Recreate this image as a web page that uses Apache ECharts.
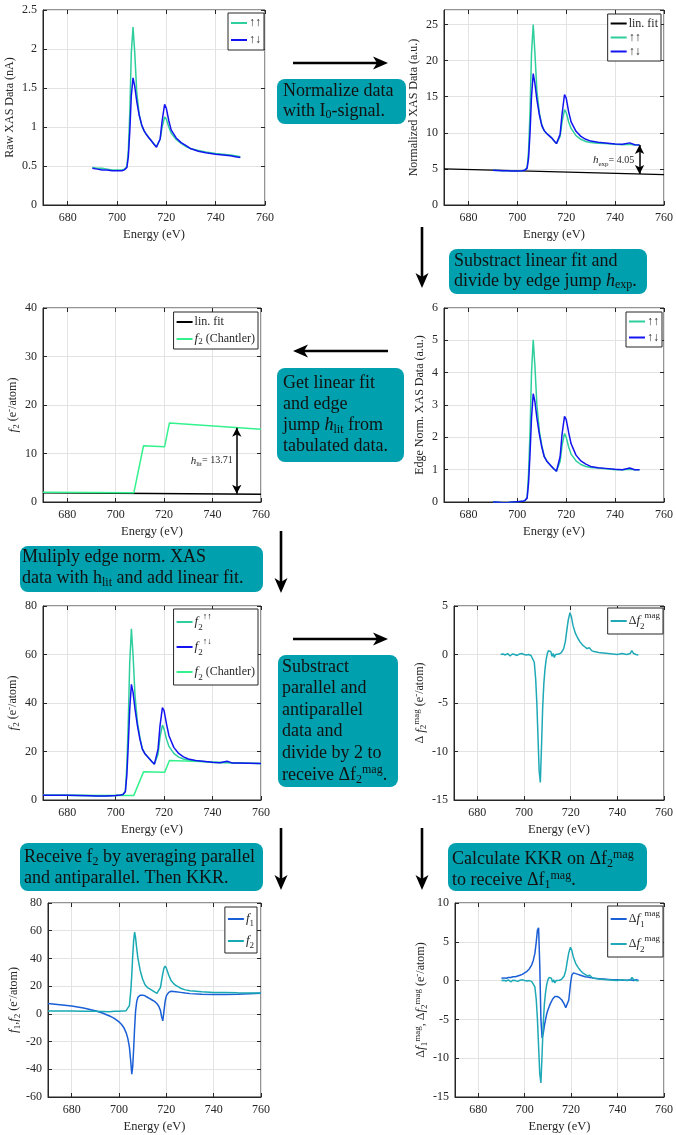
<!DOCTYPE html>
<html><head><meta charset="utf-8">
<script src="https://cdn.jsdelivr.net/npm/echarts@6/dist/echarts.min.js"></script>
<style>html,body{margin:0;padding:0;background:#fff}#c{width:676px;height:1135px}</style>
</head><body><div id="c"></div>
<script>
// ---------------- DATA ----------------
const E = [690,692,694,696,698,700,702,703,704,704.6,705.2,705.8,706.5,707.2,708,709,710,711,712,713,714,715,716,716.8,717.5,718.3,719.3,720,721,722,724,726,728,730,733,736,740,743,746,748,750];
const raw_ud = [0.47,0.46,0.45,0.45,0.44,0.44,0.44,0.45,0.48,0.62,0.95,1.40,1.63,1.52,1.33,1.15,1.03,0.95,0.90,0.86,0.82,0.78,0.74,0.74,0.85,1.08,1.29,1.24,1.08,0.96,0.86,0.80,0.76,0.72,0.69,0.67,0.65,0.64,0.63,0.62,0.61];
const raw_uu = [0.48,0.47,0.47,0.46,0.45,0.45,0.45,0.46,0.49,0.70,1.20,1.95,2.28,1.95,1.45,1.16,1.02,0.95,0.90,0.86,0.82,0.78,0.75,0.75,0.84,1.00,1.13,1.10,1.00,0.92,0.84,0.79,0.75,0.72,0.70,0.68,0.66,0.65,0.64,0.63,0.62];
const norm_ud = [4.8,4.78,4.75,4.75,4.72,4.72,4.75,4.8,5.1,6.5,10,15,18.2,16.8,14.6,12.5,11.0,10.3,9.9,9.6,9.3,8.9,8.5,8.6,9.8,12.6,15.3,14.8,12.9,11.5,10.2,9.5,9.1,8.85,8.7,8.6,8.45,8.4,8.6,8.35,8.3];
const norm_uu = [4.8,4.78,4.75,4.75,4.72,4.72,4.75,4.8,5.15,7.5,13,21,25.0,21,15.8,12.8,11.1,10.3,9.9,9.6,9.3,8.9,8.5,8.6,9.5,11.5,13.2,12.8,11.5,10.6,9.6,9.1,8.8,8.65,8.55,8.5,8.4,8.35,8.4,8.3,8.3];
const edge_ud = [0.0,-0.01,-0.02,-0.02,0.0,0.01,0.02,0.04,0.12,0.6,1.5,2.6,3.35,3.1,2.6,2.1,1.7,1.4,1.27,1.18,1.1,1.02,0.95,1.0,1.4,2.1,2.65,2.55,2.15,1.8,1.45,1.27,1.17,1.1,1.06,1.04,1.01,1.0,1.05,1.0,1.0];
const edge_uu = [0.0,-0.01,-0.02,-0.02,0.0,0.01,0.02,0.04,0.13,0.9,2.2,4.0,5.02,4.2,3.0,2.2,1.75,1.42,1.27,1.18,1.1,1.02,0.95,0.98,1.25,1.75,2.12,2.0,1.7,1.48,1.27,1.16,1.1,1.07,1.05,1.03,1.0,1.0,1.01,1.0,1.0];

const E5 = [670,675,680,685,690,692,694,696,698,700,702,703,704,704.6,705.2,705.8,706.5,707.2,708,709,710,711,712,713,714,715,716,716.8,717.5,718.3,719.3,720,721,722,724,726,728,730,733,736,740,743,746,748,750,755,760];
const f2_ud = [2.0,2.0,1.95,1.9,1.8,1.7,1.6,1.6,1.8,1.9,2.1,2.3,3.4,10,22.4,37.4,47.7,44.3,37.5,30.6,25.1,21.0,19.2,18.0,16.9,15.8,14.8,15.5,21.0,30.6,38.1,36.8,31.3,26.5,21.7,19.2,17.8,16.9,16.3,16.0,15.6,15.4,16.0,15.3,15.3,15.2,15.1];
const f2_uu = [2.0,2.0,1.95,1.9,1.8,1.7,1.6,1.6,1.8,1.9,2.1,2.3,3.6,14.1,32,56.6,70.6,59.4,42.9,32,25.8,21.3,19.2,18.0,16.9,15.8,14.8,15.2,18.9,25.8,30.9,29.2,25.1,22.1,19.2,17.7,16.9,16.5,16.2,15.9,15.5,15.4,15.5,15.3,15.3,15.2,15.1];

const E_ch = [670,707.5,711.5,720.2,722.2,760];
const f2_ch = [2.0,1.9,11.6,11.4,16.3,15.0];
const E_fit = [670,760];
const fit_exp = [5.0,4.2];
const fit_lit = [1.9,1.6];

const E_mag = [690,691,692,693,694,695,696,697,698,699,700,701,702,703,703.7,704.4,705,705.5,706,706.5,707,707.5,708,708.5,709,709.5,710,710.5,711,711.5,712,712.5,713,713.5,714,715,716,717,717.7,718.4,719,719.7,720.3,721,722,723,724,725,726,727,728,729,730,732,734,736,738,740,742,744,745.5,746.2,747,748,749];
const df2 = [0,0.05,-0.05,0.1,-0.15,0.05,0.0,-0.1,0.05,0.1,0.0,-0.05,0.0,-0.1,-0.3,-0.8,-2.5,-5.0,-8.5,-12.0,-13.2,-9.5,-5.5,-3.0,-1.5,-0.5,0.1,0.4,0.2,0.3,-0.2,0.1,-0.3,0.0,0.0,0.05,0.2,0.6,1.3,2.6,3.6,4.3,3.9,3.0,2.2,1.7,1.3,1.0,0.8,0.6,0.7,0.4,0.3,0.2,0.15,0.1,0.05,0.0,0.1,0.0,0.1,0.4,0.1,0.0,-0.05];
const df1 = [0.3,0.35,0.3,0.4,0.4,0.5,0.5,0.6,0.7,0.8,1.0,1.2,1.5,2.0,2.6,3.5,5.0,6.5,6.8,2.0,-5.0,-7.4,-6.8,-5.8,-5.0,-4.3,-3.8,-3.4,-3.0,-2.7,-2.4,-2.2,-2.05,-2.0,-2.05,-2.2,-2.5,-3.0,-3.5,-3.7,-2.5,-0.5,0.7,1.0,0.9,0.8,0.7,0.6,0.5,0.45,0.4,0.35,0.3,0.25,0.2,0.15,0.1,0.1,0.05,0.05,0.1,0.3,0.0,0.1,0.05];

const E7 = [670,675,680,685,690,693,696,698,700,701,702,703,703.7,704.4,705,705.4,705.8,706.2,706.6,707,707.5,708,709,710,711,712,713,714,715,716,716.8,717.5,718,718.5,719,719.5,720,721,722,723,724,726,728,730,735,740,745,750,755,760];
const f1_avg = [7.5,6.6,5.6,4.3,2.3,0.6,-1.5,-3.3,-5.8,-7.5,-9.8,-13.5,-17.5,-24,-35,-43.5,-38,-25,-10,2,9,12,13.5,13.5,13,12,11,10,9,7.5,5.5,2.5,-2,-5,2,9,13,15.5,16.3,16.2,16.0,15.5,15.0,14.6,14.2,14.0,14.0,14.2,14.5,14.8];
const f2_avg = [2.0,2.0,2.0,1.9,1.8,1.7,1.6,1.8,1.9,2.0,2.1,2.3,3.0,6,17,28,42,53,59,55,47,40,31,25,21,19,18,17,15.8,14.8,15.3,19,24,29,33,34.5,33,28,24,22,20.5,18.5,17.3,16.7,16,15.5,15.4,15.2,15.1,15.0];

// annotation arrows (data coords): [x, yStart, yEnd], label anchor [x, y]
const hExpArrow = [750, 4.3, 8.3], hExpLabelAt = [748, 6.2], hExpValue = '4.05';
const hLitArrow = [750, 1.7, 15.3], hLitLabelAt = [748.5, 8.5], hLitValue = '13.71';

const LBL = {
 p1_uu:'↑↑', p1_ud:'↑↓',
 p2_fit:'lin. fit', p2_uu:'↑↑', p2_ud:'↑↓',
 p3_fit:'lin. fit', p3_ch:'{i|f}{sub|2} (Chantler)',
 p4_uu:'↑↑', p4_ud:'↑↓',
 p5_uu:'{i|f}{sub|2}{sup|↑↑}', p5_ud:'{i|f}{sub|2}{sup|↑↓}', p5_ch:'{i|f}{sub|2} (Chantler)',
 p6_d2:'Δ{i|f}{sub|2}{sup|mag}',
 p7_f1:'{i|f}{sub|1}', p7_f2:'{i|f}{sub|2}',
 p8_d1:'Δ{i|f}{sub|1}{sup|mag}', p8_d2:'Δ{i|f}{sub|2}{sup|mag}'
};
const Y_NAMES = ['Raw XAS Data (nA)','Normalized XAS Data (a.u.)','{i|f}{sub|2} (e{sup|-}/atom)','Edge Norm. XAS Data (a.u.)','{i|f}{sub|2} (e{sup|-}/atom)','Δ {i|f}{sub|2}{sup|mag} (e{sup|-}/atom)','{i|f}{sub|1},{i|f}{sub|2} (e{sup|-}/atom)','Δ{i|f}{sub|1}{sup|mag}, Δ{i|f}{sub|2}{sup|mag} (e{sup|-}/atom)'];
const Y_RANGE = [[0,2.5,0.5],[0,27,5],[0,40,10],[0,6,1],[0,80,20],[-15,5,5],[-60,80,20],[-15,10,5]];
const X_NAME = 'Energy (eV)';

// ---------------- STYLE / LAYOUT ----------------
const FONT = 'Liberation Serif';
const AX = '#262626', GRIDC = '#e3e3e3';
const C_UU = '#2ECF9C', C_UD = '#1414F0', C_CH = '#33F28E', C_FIT = '#000000', C_D2 = '#1FA9B6', C_F1 = '#1A5FD6', C_F2 = '#19A9B3';
const BOX = '#00A0AE';

const GRIDS = [
 {left:43, top:10, width:222, height:195},
 {left:444, top:10, width:222, height:195},
 {left:43, top:308, width:218, height:194},
 {left:444, top:308, width:222, height:194},
 {left:43, top:606, width:218, height:194},
 {left:454, top:606, width:213, height:194},
 {left:48, top:903, width:213, height:194},
 {left:455, top:903, width:211, height:194}
];
const Y_GAP = [21,17,21,12,21,25,26,26];

function rich(fs, lh){
  const s = Math.round(fs*0.72);
  return {
    i:{fontFamily:FONT,fontStyle:'italic',fontSize:fs+1,color:AX,lineHeight:lh},
    sub:{fontFamily:FONT,fontSize:s,color:AX,lineHeight:s,verticalAlign:'bottom'},
    sup:{fontFamily:FONT,fontSize:s,color:AX,lineHeight:s,verticalAlign:'top'}
  };
}
const pair = (xs, ys) => xs.map((x,i)=>[x, ys[i]]);

const grid = GRIDS.map(g => Object.assign({show:true, borderColor:AX, borderWidth:1, backgroundColor:'#fff'}, g));
const xAxis = [], yAxis = [];
GRIDS.forEach((g, gi) => {
  xAxis.push({type:'value', gridIndex:gi, min:670, max:760, position:'bottom',
    axisLine:{show:true,onZero:false,lineStyle:{color:AX}},
    axisTick:{inside:true,length:4,lineStyle:{color:AX}},
    axisLabel:{showMinLabel:false,fontFamily:FONT,fontSize:12,color:AX,margin:7},
    splitLine:{show:true,lineStyle:{color:GRIDC}},
    name:X_NAME, nameLocation:'middle', nameGap:23,
    nameTextStyle:{fontFamily:FONT,fontSize:12.5,color:AX}});
  xAxis.push({type:'value', gridIndex:gi, min:670, max:760, position:'top',
    axisLine:{show:false,onZero:false}, axisTick:{inside:true,length:4,lineStyle:{color:AX}},
    axisLabel:{show:false}, splitLine:{show:false}});
  const r = Y_RANGE[gi];
  yAxis.push({type:'value', gridIndex:gi, min:r[0], max:r[1], interval:r[2], position:'left',
    axisLine:{show:true,onZero:false,lineStyle:{color:AX}},
    axisTick:{inside:true,length:4,lineStyle:{color:AX}},
    axisLabel:{showMaxLabel: gi!==1, fontFamily:FONT,fontSize:12,color:AX,margin:6},
    splitLine:{show:true,lineStyle:{color:GRIDC}},
    name:Y_NAMES[gi], nameLocation:'middle', nameRotate:90, nameGap:Y_GAP[gi],
    nameTextStyle:{fontFamily:FONT,fontSize:12,color:AX,lineHeight:16,rich:rich(12,16)}});
  yAxis.push({type:'value', gridIndex:gi, min:r[0], max:r[1], interval:r[2], position:'right',
    axisLine:{show:false,onZero:false}, axisTick:{inside:true,length:4,lineStyle:{color:AX}},
    axisLabel:{show:false}, splitLine:{show:false}});
});

function line(name, gi, data, color, extra){
  return Object.assign({type:'line', name, xAxisIndex:2*gi, yAxisIndex:2*gi, data,
    showSymbol:false, symbol:'none', animation:false, z:3,
    lineStyle:{color, width:1.5}, itemStyle:{color}}, extra||{});
}
function arrowMark(a, labAt, sym, val){
  return {
    markLine:{silent:true, symbol:['arrow','arrow'], symbolSize:[7,9], animation:false,
      lineStyle:{color:'#000',width:1.5,type:'solid'}, label:{show:false},
      data:[[{coord:[a[0],a[1]]},{coord:[a[0],a[2]]}]]},
    markPoint:{silent:true, symbol:'circle', symbolSize:1, itemStyle:{color:'rgba(0,0,0,0)'}, animation:false,
      data:[{coord:labAt}],
      label:{show:true, position:'left', distance:0, color:AX, fontFamily:FONT, fontSize:10, lineHeight:14,
        formatter:'{i|h}{sub|'+sym+'}= '+val, rich:rich(10,14)}}
  };
}

const series = [
  line('p1_uu',0,pair(E,raw_uu),C_UU), line('p1_ud',0,pair(E,raw_ud),C_UD),
  line('p2_fit',1,pair(E_fit,fit_exp),C_FIT,Object.assign({lineStyle:{color:C_FIT,width:1.2}}, arrowMark(hExpArrow,hExpLabelAt,'exp',hExpValue))),
  line('p2_uu',1,pair(E,norm_uu),C_UU), line('p2_ud',1,pair(E,norm_ud),C_UD),
  line('p3_fit',2,pair(E_fit,fit_lit),C_FIT,Object.assign({lineStyle:{color:C_FIT,width:1.5}}, arrowMark(hLitArrow,hLitLabelAt,'lit',hLitValue))),
  line('p3_ch',2,pair(E_ch,f2_ch),C_CH),
  line('p4_uu',3,pair(E,edge_uu),C_UU), line('p4_ud',3,pair(E,edge_ud),C_UD),
  line('p5_ch',4,pair(E_ch,f2_ch),C_CH),
  line('p5_uu',4,pair(E5,f2_uu),C_UU), line('p5_ud',4,pair(E5,f2_ud),C_UD),
  line('p6_d2',5,pair(E_mag,df2),C_D2),
  line('p7_f1',6,pair(E7,f1_avg),C_F1), line('p7_f2',6,pair(E7,f2_avg),C_F2),
  line('p8_d1',7,pair(E_mag,df1),C_F1), line('p8_d2',7,pair(E_mag,df2),C_D2)
];

function legend(names, right, top, lh, gap){
  return {data:names, orient:'vertical', right, top, icon:'rect', itemWidth:16, itemHeight:2, itemGap:gap,
    backgroundColor:'#fff', borderColor:AX, borderWidth:1, padding:[3,3,3,3], selectedMode:false,
    formatter:n=>LBL[n],
    textStyle:{fontFamily:FONT,fontSize:12,color:AX,lineHeight:lh,padding:[0,0,0,-3],rich:rich(12,lh)}};
}
const legends = [
  legend(['p1_uu','p1_ud'], 412, 13, 14, 3),
  legend(['p2_fit','p2_uu','p2_ud'], 15, 14, 13, 1),
  legend(['p3_fit','p3_ch'], 418, 312, 14, 3),
  legend(['p4_uu','p4_ud'], 14, 312, 13, 3),
  legend(['p5_uu','p5_ud','p5_ch'], 418, 609, 20, 5),
  legend(['p6_d2'], 13, 608, 20, 2),
  legend(['p7_f1','p7_f2'], 419, 907, 18, 4),
  legend(['p8_d1','p8_d2'], 13, 906, 20, 5)
];

// ---------------- FLOW GRAPHICS ----------------
const flowArrows = [[293,63,388,63],[422,227,422,288],[388,351,293,351],[281,531,281,593],[293,639,388,639],[281,828,281,890],[422,828,422,890]];
const flowBoxes = [
 {x:277,y:79,w:129,h:45,tx:283,ty:81,lh:20,text:'Normalize data\nwith I{sub|0}-signal.'},
 {x:449,y:249,w:198,h:45,tx:454,ty:251,lh:20,text:'Substract linear fit and\ndivide by edge jump {i|h}{sub|exp}.'},
 {x:277,y:368,w:127,h:94,tx:283,ty:373,lh:21,text:'Get linear fit\nand edge\njump {i|h}{sub|lit} from\ntabulated data.'},
 {x:20,y:546,w:243,h:46,tx:22,ty:547,lh:21,text:'Muliply edge norm. XAS\ndata with h{sub|lit} and add linear fit.'},
 {x:278,y:655,w:120,h:132,tx:282,ty:656,lh:21.6,text:'Substract\nparallel and\nantiparallel\ndata and\ndivide by 2 to\nreceive Δf{sub|2}{sup|mag}.'},
 {x:20,y:843,w:243,h:48,tx:24,ty:847,lh:21,text:'Receive f{sub|2} by averaging parallel\nand antiparallel. Then KKR.'},
 {x:448,y:843,w:199,h:48,tx:452,ty:849,lh:21,text:'Calculate KKR on Δf{sub|2}{sup|mag}\nto receive Δf{sub|1}{sup|mag}.'}
];
const graphic = [];
flowBoxes.forEach(b => {
  graphic.push({type:'rect', shape:{x:b.x,y:b.y,width:b.w,height:b.h,r:8}, style:{fill:BOX}, z:10});
  graphic.push({type:'text', x:b.tx, y:b.ty, z:11, style:{text:b.text, fontFamily:FONT, fontSize:18, lineHeight:b.lh, fill:'#111',
    rich:{i:{fontFamily:FONT,fontStyle:'italic',fontSize:18,fill:'#111',lineHeight:b.lh},
          sub:{fontFamily:FONT,fontSize:12,fill:'#111',lineHeight:11,verticalAlign:'bottom'},
          sup:{fontFamily:FONT,fontSize:12,fill:'#111',lineHeight:11,verticalAlign:'top'}}}});
});
flowArrows.forEach(a => {
  const dx=a[2]-a[0], dy=a[3]-a[1], L=Math.hypot(dx,dy), ux=dx/L, uy=dy/L, px=-uy, py=ux;
  const HL=15, HW=6.5, N=4;
  const tip=[a[2],a[3]], back=[a[2]-HL*ux,a[3]-HL*uy], notch=[a[2]-(HL-N)*ux,a[3]-(HL-N)*uy];
  graphic.push({type:'line', z:10, shape:{x1:a[0],y1:a[1],x2:notch[0],y2:notch[1]}, style:{stroke:'#000',lineWidth:2.6}});
  graphic.push({type:'polygon', z:10, shape:{points:[tip,[back[0]+HW*px,back[1]+HW*py],notch,[back[0]-HW*px,back[1]-HW*py]]}, style:{fill:'#000'}});
});

const chart = echarts.init(document.getElementById('c'), null, {renderer:'canvas'});
chart.setOption({animation:false, backgroundColor:'#fff', grid, xAxis, yAxis, series, legend:legends, graphic});
</script></body></html>
